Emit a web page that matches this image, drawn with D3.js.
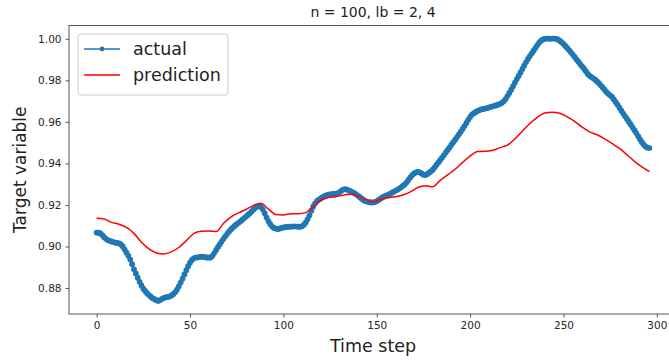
<!DOCTYPE html>
<html>
<head>
<meta charset="utf-8">
<script src="https://cdn.jsdelivr.net/npm/d3@7"></script>
<style>
  html, body { margin: 0; padding: 0; background: #fff; }
  svg { display: block; font-family: "DejaVu Sans", sans-serif; }
</style>
</head>
<body>
<svg id="chart" width="669" height="360"></svg>
<script>
// Observed target series, one value per time step (0..296)
const actual = [
  0.9067, 0.9066, 0.9063, 0.9055, 0.9045, 0.9037, 0.9031, 0.9027, 0.9024, 0.9021,
  0.9019, 0.9017, 0.9015, 0.9010, 0.9000, 0.8985, 0.8970, 0.8955, 0.8937, 0.8915,
  0.8890, 0.8870, 0.8850, 0.8830, 0.8812, 0.8797, 0.8786, 0.8775, 0.8766, 0.8758,
  0.8751, 0.8746, 0.8741, 0.8738, 0.8742, 0.8748, 0.8752, 0.8755, 0.8757, 0.8759,
  0.8764, 0.8770, 0.8779, 0.8792, 0.8808, 0.8826, 0.8845, 0.8865, 0.8886, 0.8905,
  0.8922, 0.8935, 0.8943, 0.8946, 0.8948, 0.8949, 0.8951, 0.8950, 0.8949, 0.8947,
  0.8946, 0.8947, 0.8955, 0.8968, 0.8983, 0.8998, 0.9011, 0.9025, 0.9038, 0.9050,
  0.9062, 0.9073, 0.9083, 0.9092, 0.9100, 0.9107, 0.9114, 0.9121, 0.9129, 0.9137,
  0.9144, 0.9152, 0.9160, 0.9169, 0.9178, 0.9186, 0.9192, 0.9195, 0.9190, 0.9178,
  0.9160, 0.9140, 0.9122, 0.9107, 0.9096, 0.9089, 0.9086, 0.9084, 0.9086, 0.9089,
  0.9092, 0.9093, 0.9094, 0.9095, 0.9096, 0.9096, 0.9097, 0.9096, 0.9095, 0.9095,
  0.9097, 0.9105, 0.9116, 0.9132, 0.9150, 0.9172, 0.9193, 0.9208, 0.9219, 0.9226,
  0.9231, 0.9237, 0.9242, 0.9246, 0.9249, 0.9251, 0.9252, 0.9253, 0.9254, 0.9256,
  0.9261, 0.9268, 0.9274, 0.9276, 0.9274, 0.9270, 0.9266, 0.9262, 0.9257, 0.9251,
  0.9244, 0.9237, 0.9230, 0.9223, 0.9218, 0.9215, 0.9213, 0.9212, 0.9212, 0.9214,
  0.9218, 0.9224, 0.9230, 0.9236, 0.9241, 0.9245, 0.9248, 0.9253, 0.9258, 0.9263,
  0.9268, 0.9273, 0.9279, 0.9285, 0.9292, 0.9299, 0.9309, 0.9321, 0.9333, 0.9344,
  0.9352, 0.9357, 0.9359, 0.9357, 0.9352, 0.9346, 0.9344, 0.9348, 0.9355, 0.9362,
  0.9370, 0.9381, 0.9393, 0.9405, 0.9417, 0.9428, 0.9440, 0.9453, 0.9465, 0.9477,
  0.9490, 0.9502, 0.9514, 0.9527, 0.9540, 0.9553, 0.9566, 0.9580, 0.9595, 0.9610,
  0.9624, 0.9635, 0.9642, 0.9648, 0.9653, 0.9657, 0.9660, 0.9662, 0.9664, 0.9666,
  0.9669, 0.9672, 0.9675, 0.9677, 0.9680, 0.9683, 0.9687, 0.9692, 0.9699, 0.9710,
  0.9724, 0.9739, 0.9755, 0.9772, 0.9789, 0.9806, 0.9822, 0.9838, 0.9855, 0.9872,
  0.9888, 0.9903, 0.9917, 0.9930, 0.9943, 0.9956, 0.9970, 0.9982, 0.9991, 0.9997,
  1.0000, 1.0001, 1.0001, 1.0000, 1.0001, 1.0001, 1.0000, 0.9997, 0.9991, 0.9984,
  0.9975, 0.9966, 0.9956, 0.9946, 0.9935, 0.9924, 0.9913, 0.9901, 0.9890, 0.9878,
  0.9867, 0.9856, 0.9844, 0.9831, 0.9822, 0.9816, 0.9810, 0.9803, 0.9795, 0.9786,
  0.9776, 0.9766, 0.9755, 0.9744, 0.9735, 0.9728, 0.9720, 0.9708, 0.9695, 0.9682,
  0.9668, 0.9654, 0.9640, 0.9627, 0.9614, 0.9601, 0.9588, 0.9574, 0.9560, 0.9546,
  0.9531, 0.9516, 0.9502, 0.9490, 0.9481, 0.9476, 0.9474
];

// Model output, sampled every 4 time steps
const predSteps = [
  0, 4, 8, 12, 16, 20, 24, 28, 32, 36, 40, 44, 48, 52, 56, 60, 64, 68, 72, 76,
  80, 84, 88, 92, 96, 100, 104, 108, 112, 116, 120, 124, 128, 132, 136, 140, 144, 148, 152, 156,
  160, 164, 168, 172, 176, 180, 184, 188, 192, 196, 200, 204, 208, 212, 216, 220, 224, 228, 232, 236,
  240, 244, 248, 252, 256, 260, 264, 268, 272, 276, 280, 284, 288, 292, 296
];
const prediction = [
  0.9136, 0.9132, 0.9116, 0.9107, 0.9092, 0.9063, 0.9020, 0.8988, 0.8969, 0.8964,
  0.8974, 0.8995, 0.9028, 0.9062, 0.9073, 0.9075, 0.9072, 0.9112, 0.9143, 0.9162,
  0.9178, 0.9198, 0.9208, 0.9180, 0.9154, 0.9152, 0.9158, 0.9158, 0.9163, 0.9192,
  0.9222, 0.9236, 0.9240, 0.9247, 0.9252, 0.9242, 0.9228, 0.9216, 0.9227, 0.9235,
  0.9239, 0.9248, 0.9263, 0.9284, 0.9293, 0.9288, 0.9318, 0.9345, 0.9372, 0.9405,
  0.9435, 0.9457, 0.9458, 0.9463, 0.9476, 0.9488, 0.9518, 0.9555, 0.9592, 0.9622,
  0.9643, 0.9647, 0.9642, 0.9624, 0.9602, 0.9575, 0.9552, 0.9538, 0.9518, 0.9496,
  0.9472, 0.9442, 0.9410, 0.9383, 0.9361
];

const xTicks = [0, 50, 100, 150, 200, 250, 300];
const yTicks = [0.88, 0.90, 0.92, 0.94, 0.96, 0.98, 1.00];
const seriesNames = ["actual", "prediction"];
const titleText = "n = 100, lb = 2, 4";
const xLabel = "Time step";
const yLabel = "Target variable";

const BLUE = "#1f77b4", RED = "#ff0000";

const svg = d3.select("#chart");
const plot = { left: 69, top: 25.5, right: 677, bottom: 314 };

// Axis limits padded by 5% of the data span on each side
const xMax = actual.length - 1;
const xPad = 0.05 * xMax;
const allVals = actual.concat(prediction);
const [yMin, yMax] = d3.extent(allVals);
const yPad = 0.05 * (yMax - yMin);

const x = d3.scaleLinear().domain([-xPad, xMax + xPad]).range([plot.left, plot.right]);
const y = d3.scaleLinear().domain([yMin - yPad, yMax + yPad]).range([plot.bottom, plot.top]);

svg.append("defs").append("clipPath").attr("id", "plotClip")
  .append("rect")
  .attr("x", plot.left).attr("y", plot.top)
  .attr("width", plot.right - plot.left).attr("height", plot.bottom - plot.top);

const body = svg.append("g").attr("clip-path", "url(#plotClip)");

// Actual: line with a dot marker at every step
const actualPts = actual.map((v, i) => [i, v]);
const line = d3.line().x(d => x(d[0])).y(d => y(d[1]));
body.append("path")
  .attr("d", line(actualPts))
  .attr("fill", "none").attr("stroke", BLUE).attr("stroke-width", 1.5);
body.append("g").selectAll("circle").data(actualPts).join("circle")
  .attr("cx", d => x(d[0])).attr("cy", d => y(d[1])).attr("r", 2.9)
  .attr("fill", BLUE);

// Prediction line
const predPts = predSteps.map((t, i) => [t, prediction[i]]);
body.append("path")
  .attr("d", d3.line().x(d => x(d[0])).y(d => y(d[1])).curve(d3.curveMonotoneX)(predPts))
  .attr("fill", "none").attr("stroke", RED).attr("stroke-width", 1.5);

// Axes
const tickColor = "#444";
const xAxis = svg.append("g")
  .attr("transform", `translate(0,${plot.bottom})`)
  .call(d3.axisBottom(x).tickValues(xTicks).tickFormat(d3.format("d")).tickSize(3.5).tickPadding(4));
const yAxis = svg.append("g")
  .attr("transform", `translate(${plot.left},0)`)
  .call(d3.axisLeft(y).tickValues(yTicks).tickFormat(d3.format(".2f")).tickSize(3.5).tickPadding(4));
[xAxis, yAxis].forEach(a => {
  a.select(".domain").remove();
  a.selectAll("line").attr("stroke", tickColor).attr("stroke-width", 0.9);
  a.selectAll("text").attr("font-size", 10.5).attr("fill", "#262626")
    .attr("font-family", "DejaVu Sans, sans-serif");
});

// Frame
svg.append("rect")
  .attr("x", plot.left).attr("y", plot.top)
  .attr("width", plot.right - plot.left).attr("height", plot.bottom - plot.top)
  .attr("fill", "none").attr("stroke", "#555").attr("stroke-width", 1);

// Title and axis labels
svg.append("text")
  .attr("x", (plot.left + plot.right) / 2).attr("y", 17)
  .attr("text-anchor", "middle").attr("font-size", 14).attr("fill", "#222")
  .text(titleText);
svg.append("text")
  .attr("x", (plot.left + plot.right) / 2).attr("y", 352)
  .attr("text-anchor", "middle").attr("font-size", 17.5).attr("fill", "#222")
  .text(xLabel);
svg.append("text")
  .attr("transform", `translate(26,${(plot.top + plot.bottom) / 2}) rotate(-90)`)
  .attr("text-anchor", "middle").attr("font-size", 17).attr("fill", "#222")
  .text(yLabel);

// Legend
const lg = svg.append("g").attr("transform", "translate(78,34)");
lg.append("rect")
  .attr("width", 150).attr("height", 61).attr("rx", 3)
  .attr("fill", "#fff").attr("fill-opacity", 0.8)
  .attr("stroke", "#ccc").attr("stroke-width", 1);
const colors = [BLUE, RED];
seriesNames.forEach((name, i) => {
  const cy = 15 + i * 26;
  lg.append("line").attr("x1", 6).attr("x2", 42).attr("y1", cy).attr("y2", cy)
    .attr("stroke", colors[i]).attr("stroke-width", 1.5);
  if (i === 0) {
    lg.append("circle").attr("cx", 24).attr("cy", cy).attr("r", 2.4).attr("fill", colors[i]);
  }
  lg.append("text").attr("x", 55).attr("y", cy + 6)
    .attr("font-size", 17.5).attr("fill", "#222").text(name);
});
</script>
</body>
</html>
